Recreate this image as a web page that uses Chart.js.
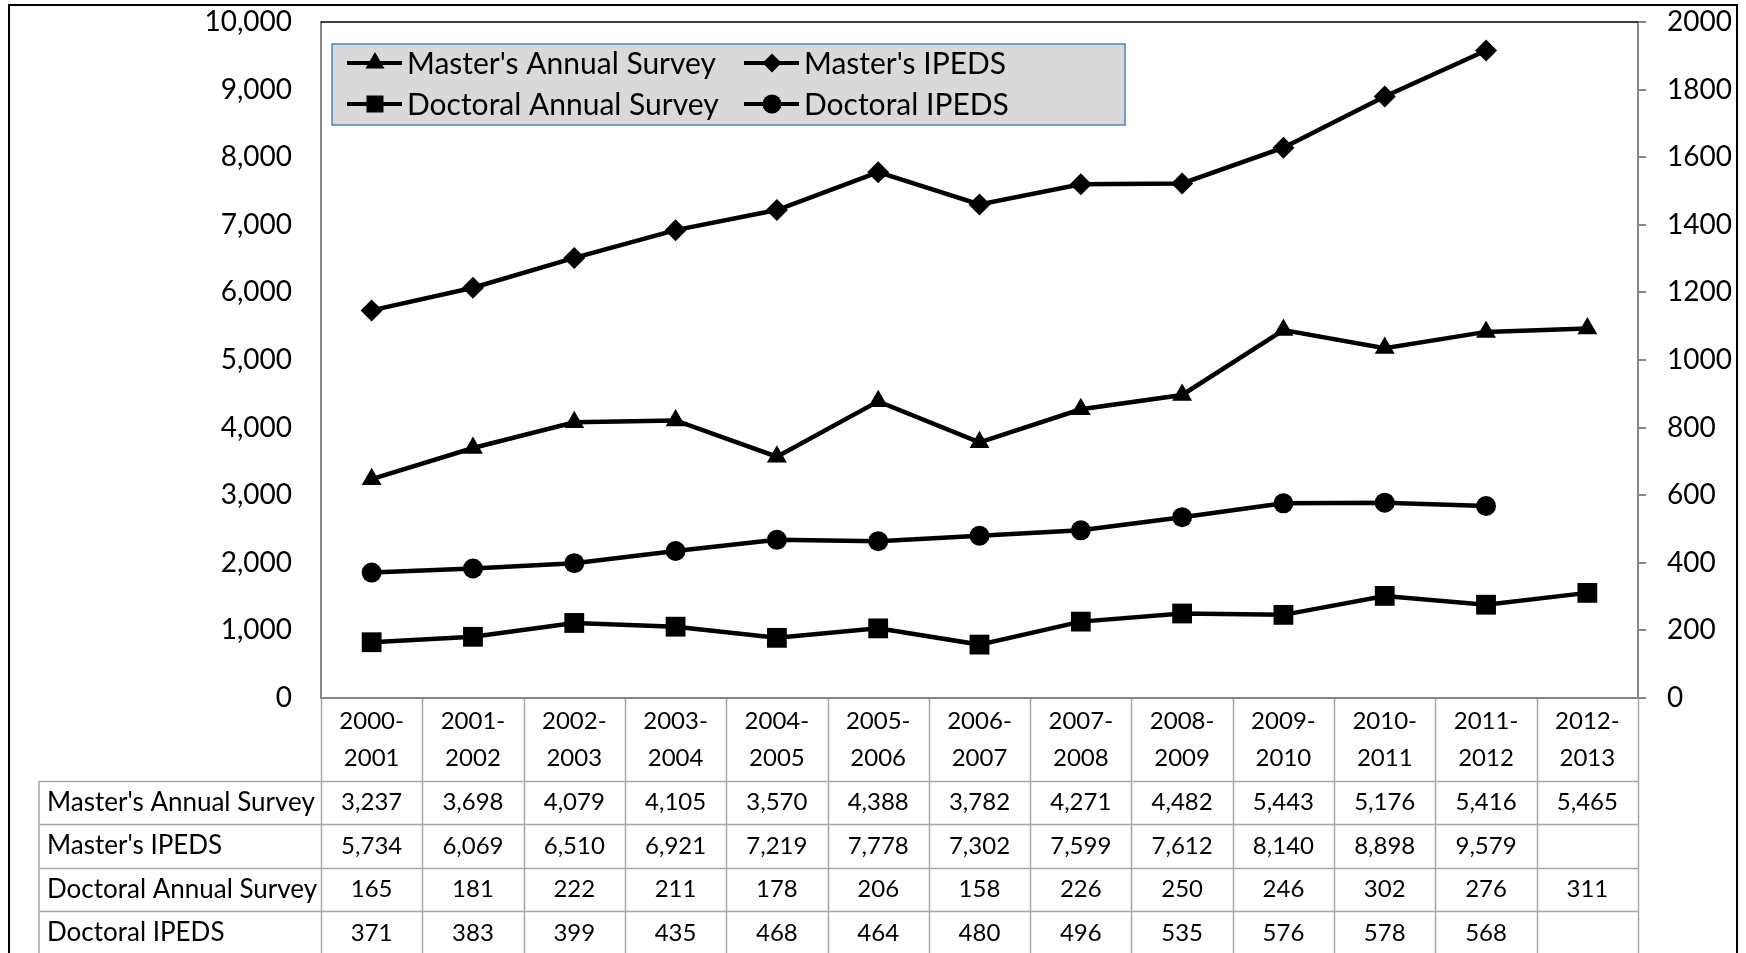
<!DOCTYPE html>
<html lang="en">
<head>
  <meta charset="UTF-8">
  <title>Master's and Doctoral Degrees, Annual Survey vs IPEDS</title>
  <script src="https://cdn.jsdelivr.net/npm/chart.js"></script>
  <style>
    body { margin: 0; background: #fff; }
    canvas { display: block; }
  </style>
</head>
<body>
  <canvas id="chart" width="1746" height="953"></canvas>

  <script>
    // Academic years (two-line category labels)
    const years = [
      ['2000-', '2001'], ['2001-', '2002'], ['2002-', '2003'], ['2003-', '2004'],
      ['2004-', '2005'], ['2005-', '2006'], ['2006-', '2007'], ['2007-', '2008'],
      ['2008-', '2009'], ['2009-', '2010'], ['2010-', '2011'], ['2011-', '2012'],
      ['2012-', '2013']
    ];

    // Series values (as printed in the data table)
    const mastersSurvey = [3237, 3698, 4079, 4105, 3570, 4388, 3782, 4271, 4482, 5443, 5176, 5416, 5465];
    const mastersIpeds = [5734, 6069, 6510, 6921, 7219, 7778, 7302, 7599, 7612, 8140, 8898, 9579, null];
    const doctoralSurvey = [165, 181, 222, 211, 178, 206, 158, 226, 250, 246, 302, 276, 311];
    const doctoralIpeds = [371, 383, 399, 435, 468, 464, 480, 496, 535, 576, 578, 568, null];

    // Axis ranges
    const leftMax = 10000, leftStep = 1000;
    const rightMax = 2000, rightStep = 200;

    const FONT = 'Lato, "Open Sans", sans-serif';
    const GRAY = '#868686';

    function pt(ctx, style, r, x, y) {
      if (Chart.helpers && Chart.helpers.drawPoint) {
        Chart.helpers.drawPoint(ctx, { pointStyle: style, radius: r, rotation: 0, borderWidth: 0 }, x, y);
      }
    }

    // Legend box drawn inside the plot area (two columns, two rows)
    const legendBox = {
      id: 'legendBox',
      afterDatasetsDraw(chart) {
        const { ctx, chartArea: a } = chart;
        const bx = a.left + 11, by = a.top + 22, bw = 793, bh = 81;
        ctx.save();
        ctx.fillStyle = '#d9d9d9';
        ctx.fillRect(bx, by, bw, bh);
        ctx.strokeStyle = '#4f81bd';
        ctx.lineWidth = 1.5;
        ctx.strokeRect(bx, by, bw, bh);
        ctx.font = '30px ' + FONT;
        ctx.textBaseline = 'middle';
        chart.data.datasets.forEach((ds, i) => {
          const x0 = bx + 15 + (i % 2) * 397;
          const y0 = by + 19 + Math.floor(i / 2) * 41;
          ctx.strokeStyle = '#000';
          ctx.lineWidth = 4;
          ctx.beginPath();
          ctx.moveTo(x0, y0);
          ctx.lineTo(x0 + 55, y0);
          ctx.stroke();
          ctx.fillStyle = '#000';
          pt(ctx, ds.pointStyle, ds.legendRadius, x0 + 28, y0);
          ctx.fillText(ds.label, x0 + 60, y0 + 1);
        });
        ctx.restore();
      }
    };

    // Data table under the plot, columns aligned with the category scale
    const dataTable = {
      id: 'dataTable',
      afterDraw(chart) {
        const { ctx, chartArea: a, scales: { x } } = chart;
        const colW = x.getPixelForValue(1) - x.getPixelForValue(0);
        const headH = 83, rowH = 43.4;
        const rowTop = a.bottom + headH;
        const labelLeft = 39;
        const bottom = chart.height + 2;
        const rows = chart.data.datasets;

        ctx.save();
        ctx.strokeStyle = '#a6a6a6';
        ctx.lineWidth = 1.5;
        ctx.beginPath();
        // vertical separators
        for (let i = 0; i <= years.length; i++) {
          const xx = Math.round(x.getPixelForValue(i) - colW / 2) + 0.5;
          ctx.moveTo(xx, a.bottom);
          ctx.lineTo(xx, bottom);
        }
        ctx.moveTo(labelLeft, rowTop);
        ctx.lineTo(labelLeft, bottom);
        // horizontal lines
        for (let r = 0; r <= rows.length; r++) {
          const yy = Math.round(rowTop + r * rowH) + 0.5;
          ctx.moveTo(labelLeft, yy);
          ctx.lineTo(a.right, yy);
        }
        ctx.stroke();

        // category axis line
        ctx.strokeStyle = GRAY;
        ctx.lineWidth = 2;
        ctx.beginPath();
        ctx.moveTo(a.left, a.bottom);
        ctx.lineTo(a.right, a.bottom);
        ctx.stroke();

        ctx.fillStyle = '#000';
        ctx.font = '24px ' + FONT;
        ctx.textBaseline = 'middle';
        ctx.textAlign = 'center';
        years.forEach((lines, i) => {
          const cx = x.getPixelForValue(i);
          ctx.fillText(lines[0], cx, a.bottom + 23);
          ctx.fillText(lines[1], cx, a.bottom + 60);
        });

        rows.forEach((ds, r) => {
          const cy = rowTop + r * rowH + rowH / 2;
          ctx.font = '26px ' + FONT;
          ctx.textAlign = 'left';
          ctx.fillText(ds.label, labelLeft + 8, cy);
          ctx.font = '24px ' + FONT;
          ctx.textAlign = 'center';
          ds.data.forEach((v, i) => {
            if (v === null) return;
            ctx.fillText(v.toLocaleString('en-US'), x.getPixelForValue(i), cy);
          });
        });

        // outer frame
        ctx.strokeStyle = '#000';
        ctx.lineWidth = 2;
        ctx.beginPath();
        ctx.moveTo(9, bottom);
        ctx.lineTo(9, 5);
        ctx.lineTo(1737, 5);
        ctx.lineTo(1737, bottom);
        ctx.stroke();

        // plot area top edge
        ctx.lineWidth = 1.5;
        ctx.beginPath();
        ctx.moveTo(a.left, a.top);
        ctx.lineTo(a.right, a.top);
        ctx.stroke();
        ctx.restore();
      }
    };

    const series = (label, data, axis, style, r, lr) => ({
      label, data, yAxisID: axis,
      borderColor: '#000', backgroundColor: '#000',
      borderWidth: 4.5,
      pointStyle: style, pointRadius: r, pointHoverRadius: r,
      pointBorderWidth: 0, pointBackgroundColor: '#000',
      legendRadius: lr,
      tension: 0, spanGaps: false
    });

    // fixed axis widths, and no extra label padding above/below the plot
    const fixAxis = w => s => {
      s.width = w;
      s.paddingTop = 0;
      s.paddingBottom = 0;
    };

    new Chart(document.getElementById('chart'), {
      type: 'line',
      data: {
        labels: years.map(l => l.join('')),
        datasets: [
          series("Master's Annual Survey", mastersSurvey, 'y', 'triangle', 11.5, 11),
          series("Master's IPEDS", mastersIpeds, 'y', 'rectRot', 11, 9.5),
          series('Doctoral Annual Survey', doctoralSurvey, 'y1', 'rect', 14, 12),
          series('Doctoral IPEDS', doctoralIpeds, 'y1', 'circle', 10, 9.5)
        ]
      },
      options: {
        responsive: false,
        devicePixelRatio: 1,
        animation: false,
        layout: { padding: { top: 22, bottom: 255, left: 0, right: 0 } },
        plugins: {
          legend: { display: false },
          tooltip: { enabled: false }
        },
        scales: {
          x: { display: false, offset: true },
          y: {
            position: 'left',
            min: 0, max: leftMax,
            afterFit: fixAxis(321),
            ticks: {
              stepSize: leftStep, padding: 29, color: '#000',
              font: { family: FONT, size: 28 },
              callback: v => v.toLocaleString('en-US')
            },
            grid: { drawOnChartArea: false, drawTicks: false },
            border: { display: true, color: GRAY, width: 2 }
          },
          y1: {
            position: 'right',
            min: 0, max: rightMax,
            afterFit: fixAxis(108),
            ticks: {
              stepSize: rightStep, padding: 21, color: '#000',
              font: { family: FONT, size: 28 },
              callback: v => String(v)
            },
            grid: { drawOnChartArea: false, drawTicks: true, tickLength: 8, color: GRAY, lineWidth: 2 },
            border: { display: true, color: GRAY, width: 2 }
          }
        }
      },
      plugins: [legendBox, dataTable]
    });
  </script>
</body>
</html>
